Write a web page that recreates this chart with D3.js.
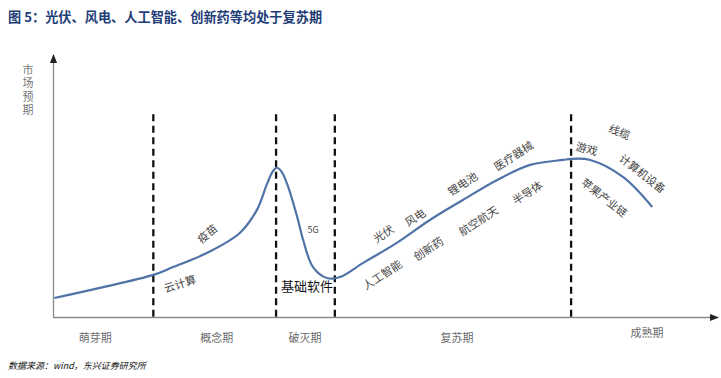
<!DOCTYPE html>
<html>
<head>
<meta charset="utf-8">
<script src="https://cdn.jsdelivr.net/npm/d3@7"></script>
<style>
  body { margin: 0; background: #fff; }
  svg { display: block; font-family: "Noto Sans CJK SC", "Noto Sans", sans-serif; }
</style>
</head>
<body>
<div id="chart"></div>
<script>
// ---------------- data (chart units: time 0-100, expectation 0-100)

const titleText = "图 5：光伏、风电、人工智能、创新药等均处于复苏期"
const sourceText = "数据来源：wind，东兴证券研究所"
const yLabel = "市场预期"

// hype cycle curve
const curveX = [0.2, 7.1, 15.2, 18.2, 23.3, 28.3, 30.9, 32.4, 33.3, 33.9, 34.6, 35.5, 37.0, 37.9, 39.4, 41.5, 43.5, 47.0, 52.1, 57.1, 62.1, 67.3, 72.3, 77.3, 78.5, 81.4, 86.4, 90.8]
const curveY = [7.3, 11.2, 16.2, 19.2, 24.6, 32.3, 41.2, 51.0, 56.0, 57.4, 56.0, 51.0, 38.5, 29.6, 19.2, 15.0, 15.4, 20.8, 28.5, 37.3, 45.0, 52.7, 58.5, 60.4, 60.8, 60.4, 53.8, 42.3]

// stages
const stageNames = ["萌芽期", "概念期", "破灭期", "复苏期", "成熟期"]
const stageCenters = [6.4, 24.8, 38.2, 61.2, 90.0]
const stageBounds = [15.2, 33.8, 42.7, 78.5]

// sectors placed on the curve
const sectorNames = ["云计算", "疫苗", "5G", "基础软件", "光伏", "风电", "锂电池", "医疗器械", "人工智能", "创新药", "航空航天", "半导体", "游戏", "线缆", "计算机设备", "苹果产业链"]
const sectorX = [19.2, 23.3, 39.4, 38.5, 50.0, 54.8, 62.0, 69.7, 49.8, 56.8, 64.4, 71.8, 80.9, 85.9, 89.4, 83.6]
const sectorY = [13.1, 32.3, 33.5, 12.3, 32.3, 38.5, 51.5, 62.3, 16.5, 26.5, 37.3, 48.1, 65.0, 71.5, 55.4, 46.2]

// ---------------- layout

const dimensions = {
    width: 721,
    height: 378,
    margin: { top: 57, right: 8, bottom: 61, left: 53 }
}
dimensions.boundedWidth = dimensions.width - dimensions.margin.left - dimensions.margin.right
dimensions.boundedHeight = dimensions.height - dimensions.margin.top - dimensions.margin.bottom

// label angle / look per sector (same order as sectorNames)
const sectorAngle = [-18, -40, 0, 0, -33, -33, -33, -33, -33, -33, -33, -33, 15, 22, 38, 38]
const sectorSize = [11, 11, 9, 13, 11, 11, 11, 11, 11, 11, 11, 11, 11, 11, 11, 11]

const svg = d3.select("#chart")
    .append("svg")
    .attr("width", dimensions.width)
    .attr("height", dimensions.height)

svg.append("text")
    .attr("x", 8)
    .attr("y", 22)
    .attr("font-size", 13.2)
    .attr("font-weight", "bold")
    .attr("fill", "#1f3e78")
    .text(titleText)

svg.append("text")
    .attr("x", 8)
    .attr("y", 369)
    .attr("font-size", 9)
    .attr("font-style", "italic")
    .attr("fill", "#111")
    .text(sourceText)

const bounds = svg.append("g")
    .attr("transform", `translate(${dimensions.margin.left},${dimensions.margin.top})`)

// ---------------- scales

const xScale = d3.scaleLinear()
    .domain([0, 100])
    .range([0, 660])

const yScale = d3.scaleLinear()
    .domain([0, 100])
    .range([dimensions.boundedHeight, 0])

// ---------------- axes (plain arrows, no ticks)

const defs = svg.append("defs")
defs.append("marker")
    .attr("id", "arrow")
    .attr("viewBox", "0 0 10 10")
    .attr("refX", 9)
    .attr("refY", 5)
    .attr("markerWidth", 7)
    .attr("markerHeight", 7)
    .attr("orient", "auto")
    .append("path")
    .attr("d", "M0,1 L10,5 L0,9 Z")
    .attr("fill", "#222")

const xAxis = bounds.append("g")
    .attr("transform", `translate(0,${dimensions.boundedHeight})`)
    .call(d3.axisBottom(xScale).tickValues([]).tickSizeOuter(0))
xAxis.select(".domain")
    .attr("stroke", "#8a8a8a")
    .attr("stroke-width", 1.3)
    .attr("d", `M0,0.5H${dimensions.boundedWidth + 5}`)
    .attr("marker-end", "url(#arrow)")

const yAxis = bounds.append("g")
    .call(d3.axisLeft(yScale).tickValues([]).tickSizeOuter(0))
yAxis.select(".domain")
    .attr("stroke", "#8a8a8a")
    .attr("stroke-width", 1.3)
    .attr("d", `M0.5,${dimensions.boundedHeight}V-2`)
    .attr("marker-end", "url(#arrow)")

// vertical axis title, one text written top to bottom
bounds.append("text")
    .attr("x", -25)
    .attr("y", 7)
    .attr("writing-mode", "vertical-rl")
    .attr("letter-spacing", 2.5)
    .attr("font-size", 11)
    .attr("fill", "#777")
    .text(yLabel)

// ---------------- stage dividers

bounds.selectAll(".divider")
    .data(stageBounds)
    .join("line")
    .attr("class", "divider")
    .attr("x1", d => xScale(d))
    .attr("x2", d => xScale(d))
    .attr("y1", yScale(78))
    .attr("y2", dimensions.boundedHeight)
    .attr("stroke", "#111")
    .attr("stroke-width", 2.3)
    .attr("stroke-dasharray", "7,4.5")

bounds.selectAll(".stage")
    .data(stageNames)
    .join("text")
    .attr("class", "stage")
    .attr("x", (d, i) => xScale(stageCenters[i]))
    .attr("y", (d, i) => i == 4 ? dimensions.boundedHeight + 20 : dimensions.boundedHeight + 25)
    .attr("text-anchor", "middle")
    .attr("font-size", 11)
    .attr("fill", "#6a6a6a")
    .text(d => d)

// ---------------- curve

const curvePoints = curveX.map((x, i) => [x, curveY[i]])

const lineGenerator = d3.line()
    .x(d => xScale(d[0]))
    .y(d => yScale(d[1]))
    .curve(d3.curveCatmullRom.alpha(0.5))

bounds.append("path")
    .datum(curvePoints)
    .attr("d", lineGenerator)
    .attr("fill", "none")
    .attr("stroke", "#4f73a6")
    .attr("stroke-width", 2.2)

// ---------------- sector labels

bounds.selectAll(".sector")
    .data(sectorNames)
    .join("text")
    .attr("class", "sector")
    .attr("transform", (d, i) => `translate(${xScale(sectorX[i])},${yScale(sectorY[i])}) rotate(${sectorAngle[i]})`)
    .attr("text-anchor", "middle")
    .attr("dominant-baseline", "central")
    .attr("font-size", (d, i) => sectorSize[i])
    .attr("fill", d => d == "基础软件" ? "#111" : "#444")
    .text(d => d)
</script>
</body>
</html>
